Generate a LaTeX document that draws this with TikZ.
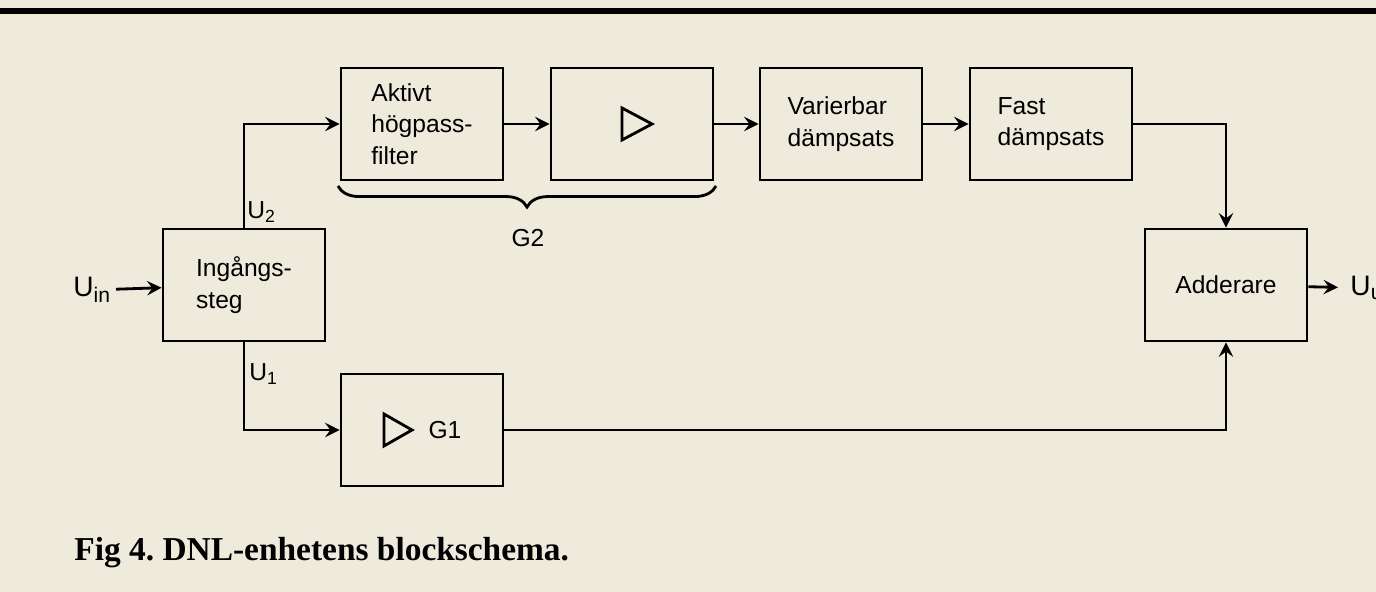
\documentclass[tikz,border=0pt]{standalone}
\usepackage{fontspec}
\setmainfont{Liberation Serif}
\setsansfont{Liberation Sans}
\usetikzlibrary{decorations.pathreplacing}
\definecolor{paper}{RGB}{238,234,220}
\begin{document}
\frenchspacing
\begin{tikzpicture}[>=stealth, x=0.01cm, y=-0.01cm,
    blk/.style={draw, thick, minimum width=1.62cm, minimum height=1.12cm, font=\sffamily\fontsize{7}{9}\selectfont, align=left},
    lbl/.style={font=\sffamily\fontsize{7}{9}\selectfont},
    sig/.style={thick, ->},
    tri/.style={thick, line join=miter}]
    \fill[paper] (0,0) rectangle (1376,592);
    \useasboundingbox (0,0) rectangle (1376,592);
    \draw[line width=1.5pt] (0,11) -- (1376,11);
    % blocks
    \node[blk] (hp) at (422,124) {Aktivt\\högpass-\\filter};
    \node[blk] (amp) at (632,124) {};
    \node[blk] (var) at (841,124) {Varierbar\\dämpsats};
    \node[blk] (fast) at (1051,124) {Fast\\dämpsats};
    \node[blk] (in) at (244,285) {Ingångs-\\steg};
    \node[blk] (add) at (1226,285) {Adderare};
    \node[blk] (g1) at (422,430) {};
    \draw[tri] (622,108) -- (652,124) -- (622,140) -- cycle;
    \draw[tri] (384,414) -- (412,430) -- (384,446) -- cycle;
    \node[lbl] (g1t) at (445,430) {G1};
    % labels
    \node[font=\sffamily\fontsize{8}{9}\selectfont, anchor=east, inner sep=1pt] (uin) at (116,290) {U\textsubscript{in}};
    \node[font=\sffamily\fontsize{8}{9}\selectfont, anchor=west] (uut) at (1338,288) {U\textsubscript{u}};
    \node[lbl] (u2) at (262,212) {U\textsubscript{2}};
    \node[lbl] (u1) at (264,374) {U\textsubscript{1}};
    \node[lbl] (g2) at (528,238) {G2};
    % connections
    \draw[sig] (uin) -- (in);
    \draw[sig] (in.north) |- (hp.west);
    \draw[sig] (in.south) |- (g1.west);
    \draw[sig] (hp) -- (amp);
    \draw[sig] (amp) -- (var);
    \draw[sig] (var) -- (fast);
    \draw[sig] (fast.east) -| (add.north);
    \draw[sig] (g1.east) -| (add.south);
    \draw[sig] (add) -- (uut);
    \draw[thick, decorate, decoration={brace, amplitude=6pt, mirror}] (338,186) -- (716,186);
    \node[anchor=west, font=\bfseries\fontsize{9.5}{11}\selectfont] (cap) at (62,553) {Fig 4. DNL-enhetens blockschema.};
\end{tikzpicture}
\end{document}
